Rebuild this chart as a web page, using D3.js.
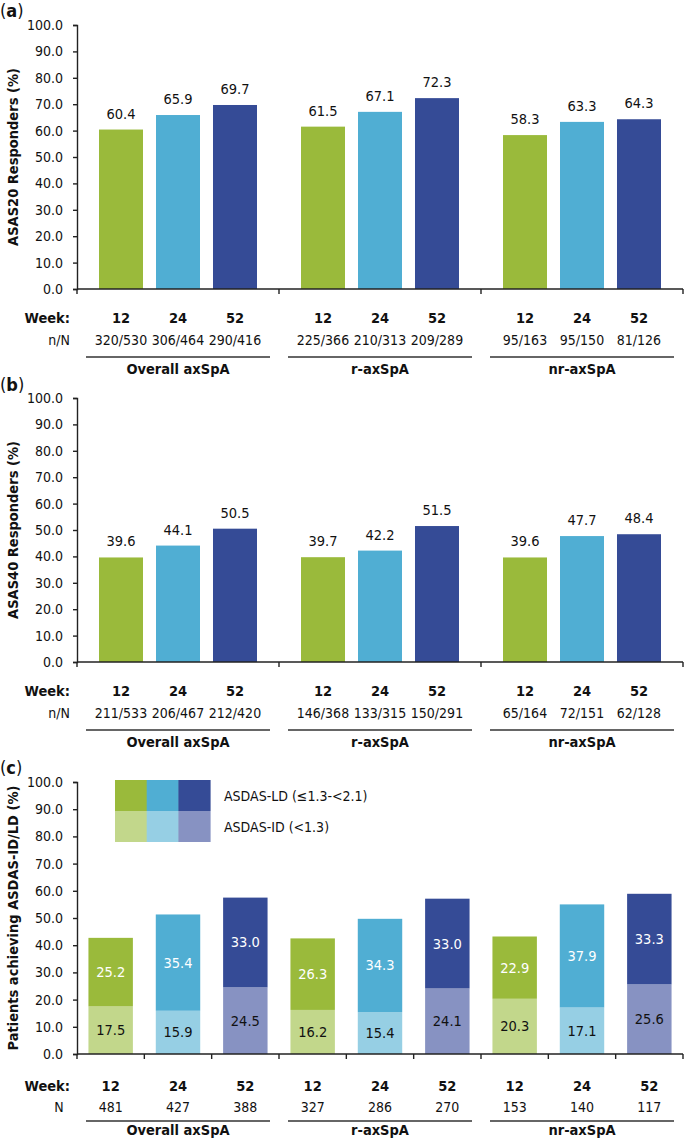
<!DOCTYPE html>
<html>
<head>
<meta charset="utf-8">
<script src="https://cdn.jsdelivr.net/npm/d3@7"></script>
<style>
  html, body { margin: 0; padding: 0; background: #fff; }
  svg { display: block; }
  text { font-family: "DejaVu Sans Condensed", "DejaVu Sans", sans-serif; font-stretch: condensed; fill: #111; }
</style>
</head>
<body>
<svg id="chart" width="684" height="1138"></svg>
<script>
// ---------- DATA ----------
const groups = ["Overall axSpA", "r-axSpA", "nr-axSpA"];
const weeks = ["12", "24", "52"];
const yTickValues = [0, 10, 20, 30, 40, 50, 60, 70, 80, 90, 100];

const asas20 = [60.4, 65.9, 69.7, 61.5, 67.1, 72.3, 58.3, 63.3, 64.3];
const asas20nN = ["320/530", "306/464", "290/416", "225/366", "210/313", "209/289", "95/163", "95/150", "81/126"];

const asas40 = [39.6, 44.1, 50.5, 39.7, 42.2, 51.5, 39.6, 47.7, 48.4];
const asas40nN = ["211/533", "206/467", "212/420", "146/368", "133/315", "150/291", "65/164", "72/151", "62/128"];

const asdasID = [17.5, 15.9, 24.5, 16.2, 15.4, 24.1, 20.3, 17.1, 25.6];
const asdasLD = [25.2, 35.4, 33.0, 26.3, 34.3, 33.0, 22.9, 37.9, 33.3];
const asdasN = ["481", "427", "388", "327", "286", "270", "153", "140", "117"];

const weekColors = ["#9aba3b", "#50aed3", "#354b96"];
const weekLightColors = ["#c2d78b", "#96cfe4", "#8792c2"];
const legendLabels = ["ASDAS-LD (\u22641.3-<2.1)", "ASDAS-ID (<1.3)"];

// ---------- LAYOUT ----------
const svg = d3.select("#chart");
const X0 = 77, X1 = 683;
const fmt = d3.format(".1f");
const cats = [];
groups.forEach(g => weeks.forEach(w => cats.push(g + "|" + w)));

function yAxis(g, y) {
  const ax = g.append("g").attr("transform", `translate(${X0},0)`)
    .call(d3.axisLeft(y).tickValues(yTickValues).tickFormat(fmt).tickSize(4).tickPadding(10));
  ax.select(".domain").attr("stroke", "#222").attr("stroke-width", 1.4);
  ax.selectAll(".tick line").attr("stroke", "#222").attr("stroke-width", 1.4);
  ax.selectAll(".tick text").attr("font-size", 14).attr("font-family", null).style("fill", "#111");
}

function panelLabel(letter, yb) {
  const t = svg.append("text").attr("x", 0).attr("y", yb).attr("font-size", 18);
  t.append("tspan").text("(");
  t.append("tspan").attr("font-weight", "bold").text(letter);
  t.append("tspan").text(")");
}

function yTitle(text, yTop, yBot) {
  svg.append("text")
    .attr("transform", `translate(13,${(yTop + yBot) / 2}) rotate(-90)`)
    .attr("text-anchor", "middle").attr("dominant-baseline", "central")
    .attr("font-size", 14.5).attr("font-weight", "bold").text(text);
}

function bottomTable(center, groupX, groupW, baseY, rowLabel, rowValues, lay) {
  svg.append("text").attr("x", 70).attr("y", baseY + lay.week).attr("text-anchor", "end")
    .attr("font-size", 14.5).attr("font-weight", "bold").text("Week:");
  svg.append("text").attr("x", 59).attr("y", baseY + lay.n).attr("text-anchor", "middle")
    .attr("font-size", 14).text(rowLabel);
  cats.forEach((c, i) => {
    svg.append("text").attr("x", center(i)).attr("y", baseY + lay.week).attr("text-anchor", "middle")
      .attr("font-size", 14.5).attr("font-weight", "bold").text(weeks[i % 3]);
    svg.append("text").attr("x", center(i)).attr("y", baseY + lay.n).attr("text-anchor", "middle")
      .attr("font-size", 14).text(rowValues[i]);
  });
  groups.forEach(g => {
    const gx = groupX(g);
    svg.append("line").attr("x1", gx + 9).attr("x2", gx + groupW - 9)
      .attr("y1", baseY + lay.line).attr("y2", baseY + lay.line)
      .attr("stroke", "#333").attr("stroke-width", 1.5);
    svg.append("text").attr("x", gx + groupW / 2).attr("y", baseY + lay.label).attr("text-anchor", "middle")
      .attr("font-size", 14.5).attr("font-weight", "bold").text(g);
  });
}

// ---------- PANELS a & b ----------
function groupedPanel(values, nN, top, bottom, letter, title, labelY) {
  const g = svg.append("g");
  const y = d3.scaleLinear().domain([0, 100]).range([bottom, top]);
  const xg = d3.scaleBand().domain(groups).range([X0, X1]).padding(0);
  const xw = d3.scaleBand().domain(weeks).range([0, xg.bandwidth()]).paddingInner(0.228).paddingOuter(0.386);
  const bx = i => xg(groups[Math.floor(i / 3)]) + xw(weeks[i % 3]);

  g.selectAll("rect.bar").data(values).join("rect").attr("class", "bar")
    .attr("x", (d, i) => bx(i)).attr("width", xw.bandwidth())
    .attr("y", d => y(d)).attr("height", d => y(0) - y(d))
    .attr("fill", (d, i) => weekColors[i % 3]);

  g.selectAll("text.val").data(values).join("text").attr("class", "val")
    .attr("x", (d, i) => bx(i) + xw.bandwidth() / 2).attr("y", d => y(d) - 11)
    .attr("text-anchor", "middle").attr("font-size", 14.5).text(d => fmt(d));

  yAxis(g, y);
  g.append("line").attr("x1", X0).attr("x2", X1).attr("y1", y(0)).attr("y2", y(0))
    .attr("stroke", "#222").attr("stroke-width", 1.4);
  const bounds = groups.map(d => xg(d)).concat([xg(groups[2]) + xg.bandwidth()]);
  bounds.forEach(b => g.append("line").attr("x1", b).attr("x2", b).attr("y1", y(0)).attr("y2", y(0) + 5)
    .attr("stroke", "#222").attr("stroke-width", 1.4));

  panelLabel(letter, labelY);
  yTitle(title, top, bottom);
  bottomTable(i => bx(i) + xw.bandwidth() / 2, d => xg(d), xg.bandwidth(), bottom, "n/N", nN,
    { week: 34, n: 56, line: 68, label: 85 });
}

groupedPanel(asas20, asas20nN, 25, 289, "a", "ASAS20 Responders (%)", 17);
groupedPanel(asas40, asas40nN, 398, 662, "b", "ASAS40 Responders (%)", 391);

// ---------- PANEL c ----------
(function () {
  const top = 782, bottom = 1054;
  const g = svg.append("g");
  const y = d3.scaleLinear().domain([0, 100]).range([bottom, top]);
  const x = d3.scaleBand().domain(cats).range([X0, X1]).paddingInner(0.34).paddingOuter(0.17);
  const xg = d3.scaleBand().domain(groups).range([X0, X1]).padding(0);

  const rows = cats.map((c, i) => ({ c, i, id: asdasID[i], ld: asdasLD[i] }));
  g.selectAll("rect.id").data(rows).join("rect").attr("class", "id")
    .attr("x", d => x(d.c)).attr("width", x.bandwidth())
    .attr("y", d => y(d.id)).attr("height", d => y(0) - y(d.id))
    .attr("fill", d => weekLightColors[d.i % 3]);
  g.selectAll("rect.ld").data(rows).join("rect").attr("class", "ld")
    .attr("x", d => x(d.c)).attr("width", x.bandwidth())
    .attr("y", d => y(d.id + d.ld)).attr("height", d => y(d.id) - y(d.id + d.ld))
    .attr("fill", d => weekColors[d.i % 3]);
  g.selectAll("text.idv").data(rows).join("text").attr("class", "idv")
    .attr("x", d => x(d.c) + x.bandwidth() / 2).attr("y", d => y(d.id / 2))
    .attr("text-anchor", "middle").attr("dominant-baseline", "central")
    .attr("font-size", 14.5).text(d => fmt(d.id));
  g.selectAll("text.ldv").data(rows).join("text").attr("class", "ldv")
    .attr("x", d => x(d.c) + x.bandwidth() / 2).attr("y", d => y(d.id + d.ld / 2))
    .attr("text-anchor", "middle").attr("dominant-baseline", "central")
    .attr("font-size", 14.5).style("fill", "#fff").text(d => fmt(d.ld));

  yAxis(g, y);
  g.append("line").attr("x1", X0).attr("x2", X1).attr("y1", y(0)).attr("y2", y(0))
    .attr("stroke", "#222").attr("stroke-width", 1.4);
  const bounds = cats.map(c => x(c) - x.step() * x.paddingOuter()).concat([X1]);
  bounds.forEach(b => g.append("line").attr("x1", b).attr("x2", b).attr("y1", y(0)).attr("y2", y(0) + 5)
    .attr("stroke", "#222").attr("stroke-width", 1.4));

  // legend
  const lx = 115, ly = 780, cw = 31.7, ch = 31;
  weekColors.forEach((col, k) => {
    svg.append("rect").attr("x", lx + k * cw).attr("y", ly).attr("width", cw + 0.5).attr("height", ch).attr("fill", col);
    svg.append("rect").attr("x", lx + k * cw).attr("y", ly + ch).attr("width", cw + 0.5).attr("height", ch).attr("fill", weekLightColors[k]);
  });
  legendLabels.forEach((t, k) => {
    svg.append("text").attr("x", 224).attr("y", ly + ch / 2 + k * ch).attr("dominant-baseline", "central")
      .attr("font-size", 14).text(t);
  });

  panelLabel("c", 774);
  yTitle("Patients achieving ASDAS-ID/LD (%)", top, bottom);
  bottomTable(i => x(cats[i]) + x.bandwidth() / 2, d => xg(d), xg.bandwidth(), bottom, "N", asdasN,
    { week: 37, n: 58, line: 67, label: 81 });
})();
</script>
</body>
</html>
